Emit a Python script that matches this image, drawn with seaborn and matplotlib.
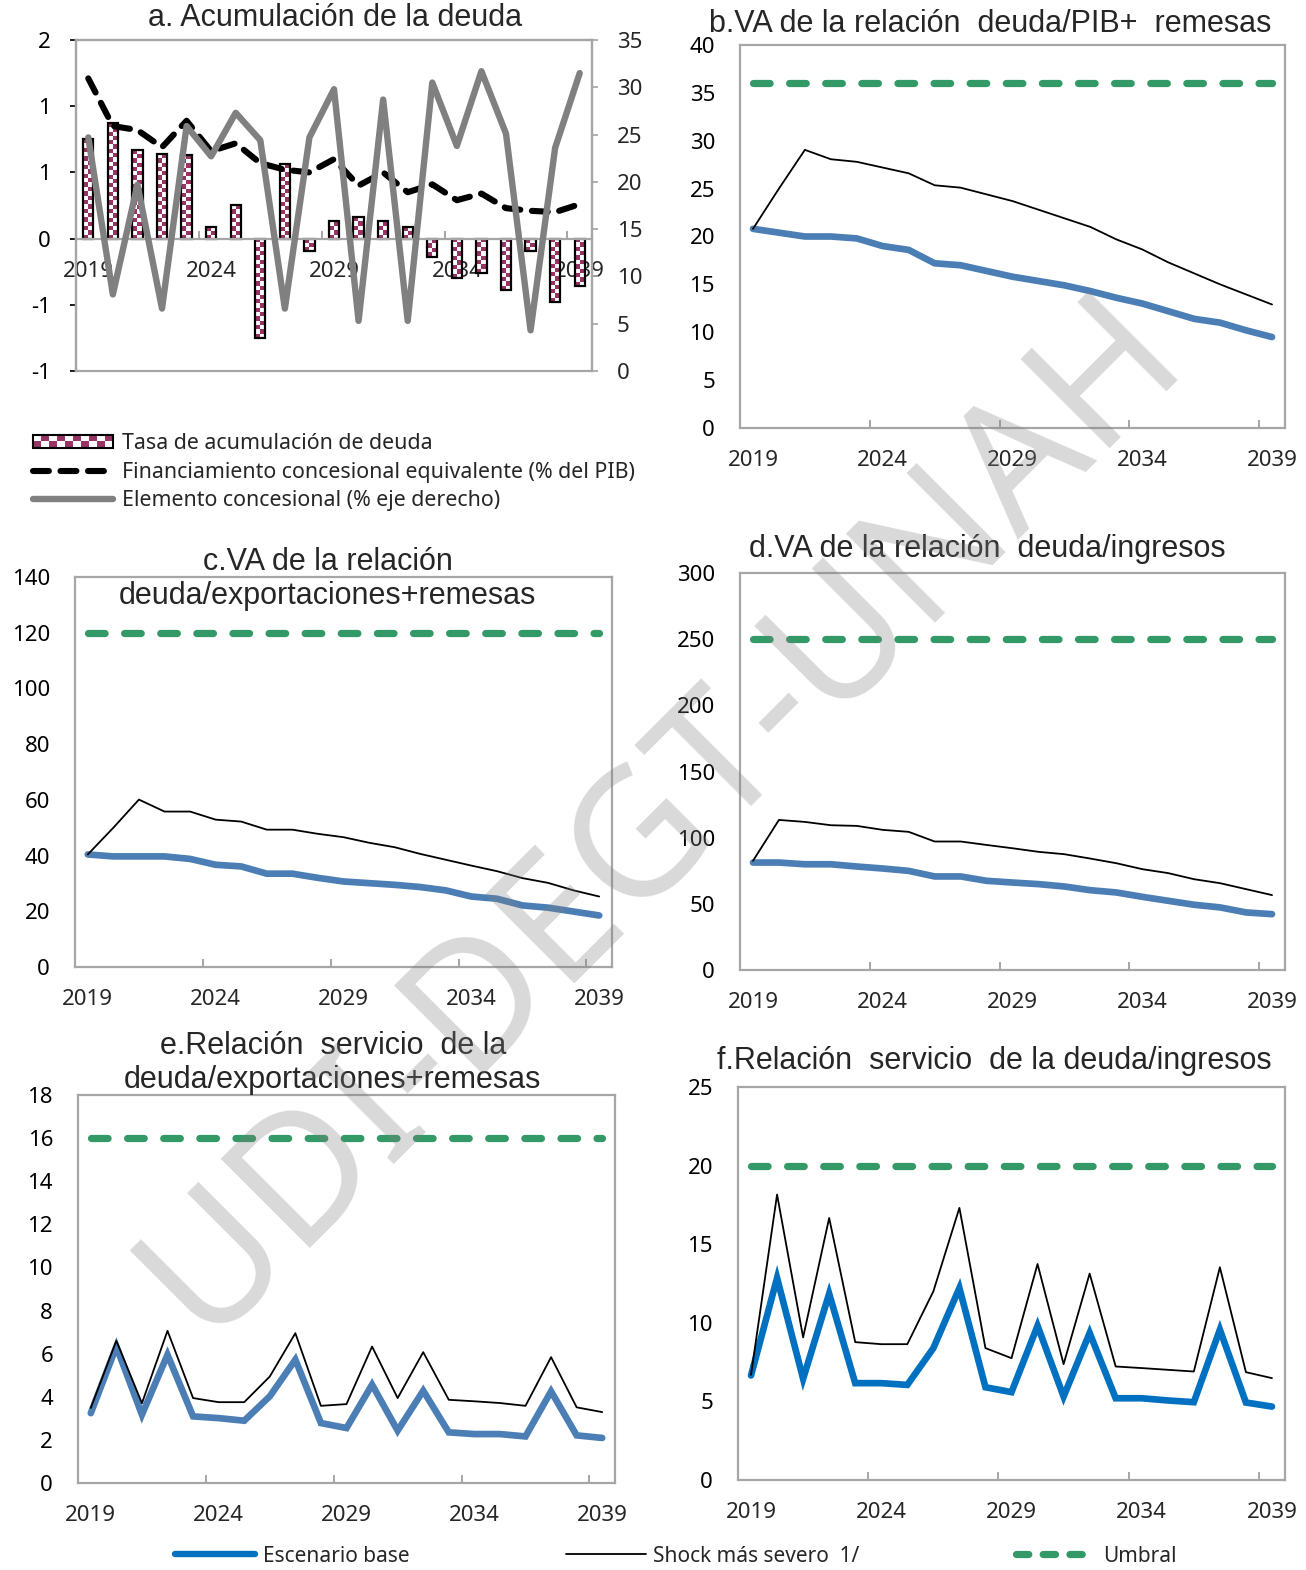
import numpy as np
import pandas as pd
import matplotlib
matplotlib.use("Agg")
import matplotlib.pyplot as plt
from matplotlib.colors import ListedColormap
from matplotlib.lines import Line2D
from matplotlib.patches import Rectangle
from matplotlib.legend_handler import HandlerBase
import seaborn as sns

years = list(range(2019, 2040))
year_ticks = [0, 5, 10, 15, 20]
year_labels = ["2019", "2024", "2029", "2034", "2039"]

# a. Acumulación de la deuda
acum_deuda = [0.75, 0.87, 0.67, 0.64, 0.63, 0.09, 0.25, -0.75, 0.56, -0.09, 0.13,
              0.16, 0.13, 0.09, -0.14, -0.30, -0.26, -0.39, -0.09, -0.48, -0.36]
fin_concesional = [1.21, 0.85, 0.82, 0.69, 0.89, 0.66, 0.72, 0.57, 0.52, 0.50, 0.60,
                   0.40, 0.50, 0.35, 0.41, 0.29, 0.34, 0.23, 0.21, 0.20, 0.26]
elem_concesional = [24.7, 8.1, 19.7, 6.6, 25.9, 22.7, 27.3, 24.4, 6.6, 24.7, 29.8,
                    5.3, 28.7, 5.3, 30.5, 23.8, 31.7, 25.1, 4.3, 23.6, 31.5]
a_yticks = [-1, -0.5, 0, 0.5, 1, 1.5]
a_ylabels = ["-1", "-1", "0", "1", "1", "2"]

# b. VA deuda/PIB+remesas
b_base = [20.8, 20.4, 20.0, 20.0, 19.8, 19.0, 18.6, 17.2, 17.0, 16.4, 15.8,
          15.35, 14.9, 14.3, 13.6, 13.0, 12.2, 11.4, 11.0, 10.2, 9.5]
b_shock = [20.8, 25.0, 29.05, 28.07, 27.8, 27.2, 26.6, 25.35, 25.1, 24.4, 23.7,
           22.8, 21.9, 21.0, 19.7, 18.65, 17.3, 16.15, 15.0, 13.95, 12.9]
b_umbral = 36

# c. VA deuda/exportaciones+remesas
c_base = [40.4, 39.7, 39.7, 39.7, 38.8, 36.7, 36.1, 33.5, 33.5, 32.0, 30.7,
          30.1, 29.5, 28.7, 27.5, 25.3, 24.5, 22.1, 21.3, 19.9, 18.5]
c_shock = [40.4, 50.0, 60.1, 55.8, 55.8, 52.9, 52.2, 49.3, 49.3, 47.8, 46.6,
           44.6, 43.0, 40.6, 38.5, 36.4, 34.4, 31.9, 30.2, 27.5, 25.3]
c_umbral = 120

# d. VA deuda/ingresos
d_base = [81.2, 81.2, 79.9, 79.9, 78.2, 76.7, 74.9, 70.7, 70.7, 67.4, 66.1,
          64.9, 63.1, 60.3, 58.6, 55.3, 52.3, 49.3, 47.3, 43.5, 42.2]
d_shock = [82.5, 113.4, 111.9, 109.4, 108.9, 105.9, 104.4, 97.1, 97.1, 94.5, 92.0,
           89.3, 87.5, 84.2, 80.7, 76.2, 73.2, 68.6, 65.6, 61.1, 56.6]
d_umbral = 250

# e. Servicio deuda/exportaciones+remesas
e_base = [3.24, 6.33, 3.17, 5.95, 3.09, 3.01, 2.89, 4.02, 5.72, 2.78, 2.55,
          4.56, 2.43, 4.28, 2.35, 2.27, 2.27, 2.16, 4.25, 2.21, 2.09]
e_shock = [3.48, 6.60, 3.70, 7.06, 3.94, 3.75, 3.75, 4.94, 6.95, 3.58, 3.66,
           6.33, 3.94, 6.07, 3.86, 3.79, 3.71, 3.58, 5.84, 3.51, 3.29]
e_umbral = 16

# f. Servicio deuda/ingresos
f_base = [6.65, 12.85, 6.44, 11.85, 6.16, 6.16, 6.05, 8.39, 12.21, 5.90, 5.59,
          9.81, 5.31, 9.35, 5.20, 5.20, 5.06, 4.95, 9.56, 4.93, 4.67]
f_shock = [6.69, 18.16, 9.07, 16.67, 8.77, 8.64, 8.64, 12.0, 17.31, 8.39, 7.75,
           13.74, 7.37, 13.13, 7.22, 7.12, 7.01, 6.90, 13.53, 6.86, 6.48]
f_umbral = 20

STEEL = "#4a7eb4"
BRIGHT = "#0070c0"
GREEN = "#339966"
GRAYLINE = "#808080"
SPINE = "#a6a6a6"
MAGENTA = "#993366"

sns.set_theme(style="white")
plt.rcParams["font.family"] = ["Noto Sans", "DejaVu Sans"]

W, H = 1306, 1570
fig = plt.figure(figsize=(W / 100, H / 100), dpi=100)


def box(l, r, t, b):
    return [l / W, 1 - b / H, (r - l) / W, (b - t) / H]


def style_axes(ax):
    for s in ax.spines.values():
        s.set_color(SPINE)
        s.set_linewidth(1.6)
    ax.tick_params(axis="y", which="major", length=4, color=SPINE, direction="out",
                   pad=14, labelsize=16, colors="black")
    ax.tick_params(axis="y", colors="black")
    ax.set_xlim(-0.5, 20.5)
    ax.set_xticks(year_ticks, year_labels)
    ax.set_xticks([4.5, 9.5, 14.5, 19.5], minor=True)
    ax.tick_params(axis="x", which="major", length=0, pad=16, labelsize=16)
    ax.tick_params(axis="x", which="minor", length=6, direction="in", color=SPINE,
                   width=1.4, bottom=True)
    ax.set_xlabel("")
    ax.set_ylabel("")
    ax.grid(False)


def title(x, y, text, size=22):
    fig.text(x / W, 1 - y / H, text, ha="center", va="center", fontsize=size,
             family=["Liberation Sans", "DejaVu Sans"])


def panel(rect, base, shock, umbral, ymax, step, base_color):
    ax = fig.add_axes(rect)
    df = pd.DataFrame({"x": np.arange(len(years)), "base": base, "shock": shock,
                       "umbral": [umbral] * len(years)})
    sns.lineplot(data=df, x="x", y="umbral", ax=ax, color=GREEN, lw=5.2)
    ax.lines[-1].set_dashes((2.3, 2.7))
    ax.lines[-1].set_dash_capstyle("round")
    sns.lineplot(data=df, x="x", y="base", ax=ax, color=base_color, lw=4.8,
                 solid_joinstyle="miter")
    sns.lineplot(data=df, x="x", y="shock", ax=ax, color="black", lw=1.3)
    ax.set_ylim(0, ymax)
    ax.set_yticks(np.arange(0, ymax + step / 2, step))
    style_axes(ax)
    return ax


# ---- panel a ----
axa = fig.add_axes(box(76, 592, 40, 371))
dfa = pd.DataFrame({"year": years, "acum": acum_deuda,
                    "fin": fin_concesional, "elem": elem_concesional})
dfa["x"] = np.arange(len(years))
sns.barplot(data=dfa, x="x", y="acum", ax=axa, width=0.42, color=MAGENTA,
            saturation=1, zorder=2)
axa.set_ylim(-1, 1.5)
checker = ListedColormap([MAGENTA, "white"])
for bar in list(axa.patches):
    x0, w = bar.get_x(), bar.get_width()
    y0, h = bar.get_y(), bar.get_height()
    rows = max(1, int(round(abs(h) / 0.032)))
    arr = (np.arange(rows)[:, None] + np.arange(2)[None, :]) % 2
    lo, hi = min(y0, y0 + h), max(y0, y0 + h)
    im = axa.imshow(arr, extent=(x0, x0 + w, lo, hi), cmap=checker, aspect="auto",
                    interpolation="nearest", zorder=2.1, origin="lower")
    im.set_clip_path(bar)
    bar.set_facecolor("none")
    bar.set_edgecolor("black")
    bar.set_linewidth(1.6)
    bar.set_zorder(2.2)
sns.lineplot(data=dfa, x="x", y="fin", ax=axa, color="black", lw=4.4, zorder=3)
axa.lines[-1].set_dashes((2.6, 1.9))
axa.lines[-1].set_dash_capstyle("round")
axa.set_ylim(-1, 1.5)
axa.set_yticks(a_yticks, a_ylabels)
style_axes(axa)
axa.spines["bottom"].set_position(("data", 0))

axa2 = axa.twinx()
sns.lineplot(data=dfa, x="x", y="elem", ax=axa2, color=GRAYLINE, lw=4.6)
axa2.set_ylim(0, 35)
axa2.set_yticks(np.arange(0, 36, 5))
axa2.set_ylabel("")
for s in axa2.spines.values():
    s.set_color(SPINE)
    s.set_linewidth(1.6)
axa2.tick_params(axis="y", length=4, color=SPINE, direction="out", pad=14,
                 labelsize=16)
axa2.grid(False)
axa.set_xlim(-0.5, 20.5)

title(335, 18, "a. Acumulación de la deuda")


class CheckerHandler(HandlerBase):
    def create_artists(self, legend, orig_handle, xdescent, ydescent, width,
                       height, fontsize, trans):
        arts = []
        ncol, nrow = 10, 2
        cw, rh = width / ncol, height / nrow
        for i in range(ncol):
            for j in range(nrow):
                c = MAGENTA if (i + j) % 2 == 0 else "white"
                arts.append(Rectangle((-xdescent + i * cw, -ydescent + j * rh), cw, rh,
                                      facecolor=c, edgecolor="none", transform=trans))
        arts.append(Rectangle((-xdescent, -ydescent), width, height, facecolor="none",
                              edgecolor="black", lw=1.5, transform=trans))
        return arts


bar_handle = Rectangle((0, 0), 1, 1)
fin_handle = Line2D([], [], color="black", lw=4.4, dashes=(2.6, 1.9),
                    dash_capstyle="round")
elem_handle = Line2D([], [], color=GRAYLINE, lw=4.6)
fig.legend([bar_handle, fin_handle, elem_handle],
           ["Tasa de acumulación de deuda",
            "Financiamiento concesional equivalente (% del PIB)",
            "Elemento concesional (% eje derecho)"],
           handler_map={Rectangle: CheckerHandler()},
           loc="upper left", bbox_to_anchor=(33 / W, 1 - 433 / H), frameon=False,
           fontsize=15.4, handlelength=3.75, handleheight=0.6, handletextpad=0.4,
           labelspacing=0.36, borderpad=0, borderaxespad=0)

# ---- panels b-f ----
panel(box(740, 1285, 45, 428), b_base, b_shock, b_umbral, 40, 5, STEEL)
title(990, 24, "b.VA de la relación  deuda/PIB+  remesas")

panel(box(75, 612, 577, 967), c_base, c_shock, c_umbral, 140, 20, STEEL)
title(328, 562, "c.VA de la relación")
title(327, 596, "deuda/exportaciones+remesas")

panel(box(740, 1285, 573, 970), d_base, d_shock, d_umbral, 300, 50, STEEL)
title(987, 549, "d.VA de la relación  deuda/ingresos")

panel(box(78, 615, 1095, 1483), e_base, e_shock, e_umbral, 18, 2, STEEL)
title(333, 1046, "e.Relación  servicio  de la")
title(332, 1080, "deuda/exportaciones+remesas")

panel(box(738, 1285, 1087, 1480), f_base, f_shock, f_umbral, 25, 5, BRIGHT)
title(994, 1061, "f.Relación  servicio  de la deuda/ingresos")

# bottom legend
leg_handles = [Line2D([], [], color=BRIGHT, lw=4.6, solid_capstyle="round"),
               Line2D([], [], color="black", lw=1.3),
               Line2D([], [], color=GREEN, lw=5.2, dashes=(1.7, 2.0),
                      dash_capstyle="round")]
fig.legend(leg_handles, ["Escenario base", "Shock más severo  1/", "Umbral"],
           loc="center", bbox_to_anchor=(0.5175, 1 - 1556 / H), ncol=3,
           frameon=False, fontsize=15, handlelength=3.85, handletextpad=0.35,
           columnspacing=7.5, borderpad=0)

# watermark
fig.text(662 / W, 1 - 815 / H, "UDI-DEGT-UNAH", rotation=45, fontsize=127,
         color="#808080", alpha=0.3, ha="center", va="center",
         rotation_mode="anchor", zorder=20)

fig.savefig("out.png", dpi=100)
